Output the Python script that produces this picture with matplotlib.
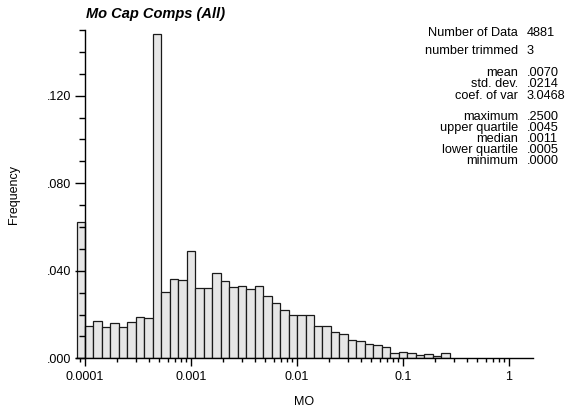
import numpy as np
import matplotlib
matplotlib.use("Agg")
import matplotlib.pyplot as plt
from matplotlib.ticker import FixedLocator, FuncFormatter, LogLocator, NullFormatter

plt.rcParams["font.family"] = ["Liberation Sans", "DejaVu Sans"]

# Frequencies per log bin (12.5 bins per decade, first bin just below 0.0001)
freq = [0.0624, 0.0148, 0.0172, 0.0142, 0.0160, 0.0142, 0.0167, 0.0187, 0.0186,
        0.1482, 0.0301, 0.0361, 0.0356, 0.0492, 0.0320, 0.0323, 0.0388, 0.0355,
        0.0324, 0.0332, 0.0317, 0.0329, 0.0286, 0.0254, 0.0219, 0.0198, 0.0196,
        0.0196, 0.0146, 0.0146, 0.0119, 0.0111, 0.0082, 0.0079, 0.0067, 0.0062,
        0.0052, 0.0023, 0.0027, 0.0023, 0.0017, 0.0020, 0.0012, 0.0023]
log_start = -4.08
log_step = 0.08

x_ticks = [0.0001, 0.001, 0.01, 0.1, 1]
x_tick_labels = ["0.0001", "0.001", "0.01", "0.1", "1"]
y_ticks = [0.0, 0.04, 0.08, 0.12]

stat_names = ["Number of Data", "number trimmed", "mean", "std. dev.", "coef. of var",
              "maximum", "upper quartile", "median", "lower quartile", "minimum"]
stat_values = ["4881", "3", ".0070", ".0214", "3.0468",
               ".2500", ".0045", ".0011", ".0005", ".0000"]
stat_rows_px = [33, 51, 73, 84, 96, 117, 128, 139, 150, 161]

edges = 10 ** (log_start + log_step * np.arange(len(freq) + 1))

W, H = 567, 416
fig = plt.figure(figsize=(W / 100, H / 100), dpi=100)
ax = fig.add_axes([76 / W, 1 - 358.3 / H, (533 - 76) / W, (358.3 - 30) / H])

ax.bar(edges[:-1], freq, width=np.diff(edges), align="edge",
       color="#e6e6e6", edgecolor="#1a1a1a", linewidth=0.9)

ax.set_xscale("log")
ax.set_xlim(10 ** -4.085, 10 ** 0.226)
ax.set_ylim(0, 0.15)

ax.spines["top"].set_visible(False)
ax.spines["right"].set_visible(False)
ax.spines["left"].set_position(("data", 1e-4))
for s in ("left", "bottom"):
    ax.spines[s].set_linewidth(1.0)

ax.xaxis.set_major_locator(FixedLocator(x_ticks))
ax.set_xticklabels(x_tick_labels)
ax.xaxis.set_minor_locator(LogLocator(base=10, subs=np.arange(2, 10)))
ax.xaxis.set_minor_formatter(NullFormatter())

ax.yaxis.set_major_locator(FixedLocator(y_ticks))
ax.yaxis.set_minor_locator(FixedLocator(np.arange(0, 0.151, 0.01)))
ax.yaxis.set_major_formatter(FuncFormatter(lambda v, p: f"{v:.3f}".lstrip("0")))

ax.tick_params(axis="x", which="major", length=6, width=1, pad=3.5, labelsize=9)
ax.tick_params(axis="x", which="minor", length=3, width=1)
ax.tick_params(axis="y", which="major", length=7, width=1, pad=3, labelsize=9)
ax.tick_params(axis="y", which="minor", length=4.3, width=1)

ax.set_xlabel("MO", fontsize=9, labelpad=9)
fig.text(14 / W, 1 - 194 / H, "Frequency", rotation=90, ha="center", va="center", fontsize=9)

fig.text(86 / W, 1 - 14 / H, "Mo Cap Comps (All)", fontsize=10.5,
         fontweight="bold", fontstyle="italic", ha="left", va="center")

for name, val, y in zip(stat_names, stat_values, stat_rows_px):
    fig.text(518 / W, 1 - y / H, name, ha="right", va="center", fontsize=9.2)
    fig.text(527 / W, 1 - y / H, val, ha="left", va="center", fontsize=9.2)

fig.savefig("out.png", dpi=100)
